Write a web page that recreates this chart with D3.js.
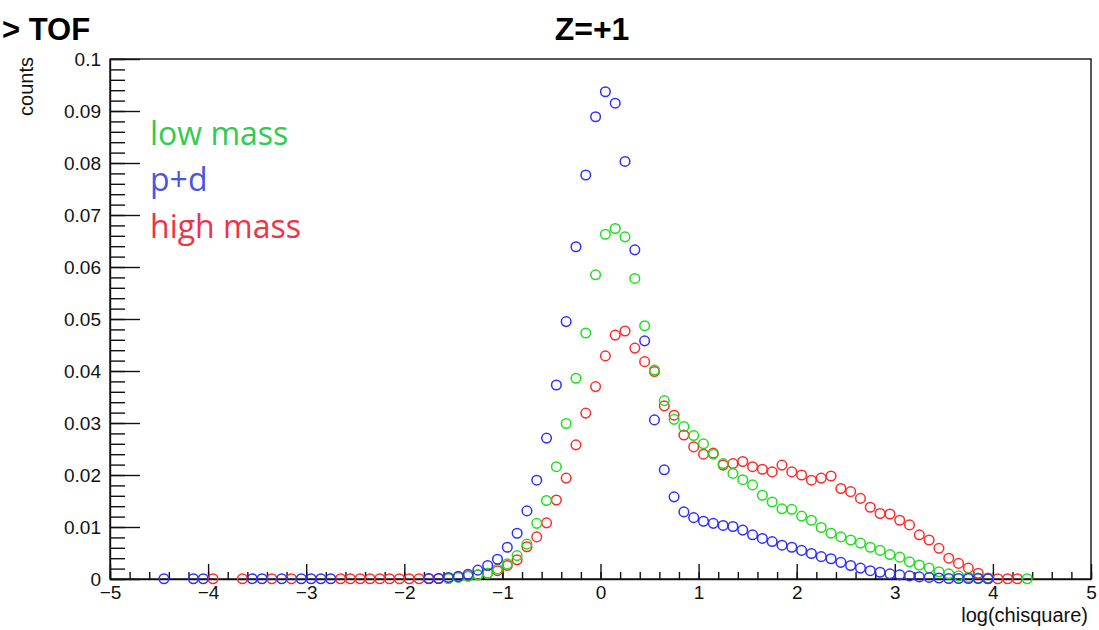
<!DOCTYPE html>
<html>
  <head>
    <meta charset="utf-8">
    <script type="text/javascript" src="https://cdn.jsdelivr.net/npm/d3@7/dist/d3.min.js"></script>
    <style>
      body { margin: 0; background: #fff; }
      svg { display: block; }
      .tick text { font-family: "Liberation Sans", Arial, sans-serif; font-size: 19px; fill: #111; }
      .axis path, .axis line { stroke: #111; stroke-width: 1.4; }
    </style>
  </head>
  <body>
    <script type="text/javascript">
      // tick labels
      var xTicks = [-5, -4, -3, -2, -1, 0, 1, 2, 3, 4, 5];
      var yTicks = [0, 0.01, 0.02, 0.03, 0.04, 0.05, 0.06, 0.07, 0.08, 0.09, 0.1];
      var yTickLabels = ["0", "0.01", "0.02", "0.03", "0.04", "0.05", "0.06", "0.07", "0.08", "0.09", "0.1"];

      // legend / series names
      var seriesNames = ["low mass", "p+d", "high mass"];

      // p+d (blue): bin centres and values
      var pdX = [-4.45, -4.15, -4.05, -3.55, -3.45, -3.25, -3.05, -2.95, -2.85, -2.75,
                 -1.75, -1.65, -1.55, -1.45, -1.35, -1.25, -1.15, -1.05, -0.95, -0.85,
                 -0.75, -0.65, -0.55, -0.45, -0.35, -0.25, -0.15, -0.05, 0.05, 0.15,
                 0.25, 0.35, 0.45, 0.55, 0.65, 0.75, 0.85, 0.95, 1.05, 1.15,
                 1.25, 1.35, 1.45, 1.55, 1.65, 1.75, 1.85, 1.95, 2.05, 2.15,
                 2.25, 2.35, 2.45, 2.55, 2.65, 2.75, 2.85, 2.95, 3.05, 3.15,
                 3.25, 3.35, 3.45, 3.55, 3.65, 3.75, 3.85, 3.95];
      var pdY = [0.00005, 0.00005, 0.00005, 0.00005, 0.00005, 0.00005, 0.00005, 0.00005, 0.00005, 0.00005,
                 0.0001, 0.0001, 0.0003, 0.0005, 0.0009, 0.0017, 0.0026, 0.0038, 0.0061, 0.0088,
                 0.0131, 0.019, 0.0271, 0.0373, 0.0495, 0.0639, 0.0777, 0.0889, 0.0937, 0.0915,
                 0.0803, 0.0633, 0.0458, 0.0306, 0.021, 0.0158, 0.0129, 0.0118, 0.0111, 0.0107,
                 0.0103, 0.0101, 0.0094, 0.0085, 0.0078, 0.0072, 0.0065, 0.0061, 0.0055, 0.0049,
                 0.0043, 0.0039, 0.0032, 0.0026, 0.0021, 0.0016, 0.0013, 0.001, 0.0008, 0.0006,
                 0.0004, 0.0003, 0.0002, 0.0001, 0.0001, 0.0001, 0.0001, 0.00005];

      // low mass (green)
      var lowX = [-1.55, -1.45, -1.35, -1.25, -1.15, -1.05, -0.95, -0.85, -0.75, -0.65,
                  -0.55, -0.45, -0.35, -0.25, -0.15, -0.05, 0.05, 0.15, 0.25, 0.35,
                  0.45, 0.55, 0.65, 0.75, 0.85, 0.95, 1.05, 1.15, 1.25, 1.35,
                  1.45, 1.55, 1.65, 1.75, 1.85, 1.95, 2.05, 2.15, 2.25, 2.35,
                  2.45, 2.55, 2.65, 2.75, 2.85, 2.95, 3.05, 3.15, 3.25, 3.35,
                  3.45, 3.55, 3.65, 3.75, 3.85, 3.95, 4.35];
      var lowY = [0.0001, 0.0003, 0.0005, 0.0008, 0.0011, 0.0019, 0.0029, 0.0045, 0.0067, 0.0107,
                  0.0151, 0.0216, 0.0299, 0.0386, 0.0473, 0.0585, 0.0663, 0.0674, 0.0658, 0.0578,
                  0.0487, 0.0402, 0.0343, 0.0307, 0.0293, 0.0276, 0.026, 0.024, 0.0222, 0.0203,
                  0.0191, 0.0181, 0.0161, 0.0148, 0.0135, 0.0134, 0.0121, 0.0113, 0.0099, 0.0088,
                  0.0081, 0.0075, 0.0069, 0.0061, 0.0055, 0.0047, 0.0042, 0.0033, 0.0027, 0.0021,
                  0.0014, 0.001, 0.0006, 0.0003, 0.0002, 0.0001, 0.00005];

      // high mass (red)
      var highX = [-3.95, -3.65, -3.35, -3.15, -2.65, -2.55, -2.45, -2.35, -2.25, -2.15,
                   -2.05, -1.95, -1.85, -1.75, -1.65, -1.55, -1.45, -1.35, -1.25, -1.15,
                   -1.05, -0.95, -0.85, -0.75, -0.65, -0.55, -0.45, -0.35, -0.25, -0.15,
                   -0.05, 0.05, 0.15, 0.25, 0.35, 0.45, 0.55, 0.65, 0.75, 0.85,
                   0.95, 1.05, 1.15, 1.25, 1.35, 1.45, 1.55, 1.65, 1.75, 1.85,
                   1.95, 2.05, 2.15, 2.25, 2.35, 2.45, 2.55, 2.65, 2.75, 2.85,
                   2.95, 3.05, 3.15, 3.25, 3.35, 3.45, 3.55, 3.65, 3.75, 3.85,
                   3.95, 4.05, 4.15, 4.25];
      var highY = [0.00005, 0.00005, 0.00005, 0.00005, 0.00005, 0.00005, 0.00005, 0.00005, 0.00005, 0.00005,
                   0.00005, 0.00005, 0.00005, 0.00005, 0.0001, 0.0002, 0.0004, 0.0006, 0.0008, 0.0011,
                   0.0016, 0.0026, 0.0037, 0.0062, 0.0081, 0.0108, 0.0152, 0.0194, 0.0258, 0.0319,
                   0.037, 0.0429, 0.0469, 0.0477, 0.0444, 0.0418, 0.0399, 0.0333, 0.0315, 0.0277,
                   0.0254, 0.024, 0.0242, 0.0219, 0.0222, 0.0226, 0.0216, 0.0211, 0.0206, 0.0219,
                   0.0206, 0.02, 0.019, 0.0194, 0.0198, 0.0174, 0.0168, 0.0155, 0.0138, 0.0126,
                   0.0125, 0.0113, 0.0104, 0.0085, 0.0075, 0.0059, 0.004, 0.003, 0.0021, 0.0011,
                   0.0002, 0.00005, 0.00005, 0.00005];

      var width = 1099;
      var height = 630;
      // plot frame edges (window.top is read-only, so no "top" here)
      var frameLeft = 110, frameRight = 1091, frameTop = 59, frameBottom = 579;

      var svg = d3.select("body")
                  .append("svg")
                  .attr("width", width)
                  .attr("height", height);

      var x = d3.scaleLinear().domain([-5, 5]).range([frameLeft, frameRight]);
      var y = d3.scaleLinear().domain([0, 0.1]).range([frameBottom, frameTop]);

      // frame
      svg.append("rect")
         .attr("x", frameLeft).attr("y", frameTop)
         .attr("width", frameRight - frameLeft).attr("height", frameBottom - frameTop)
         .attr("fill", "none")
         .attr("stroke", "#111")
         .attr("stroke-width", 1.4);

      // x axis: minor ticks every 0.2, major ticks with labels
      var xMinor = d3.range(-50, 51, 2).map(function(d) { return d / 10; });
      svg.append("g")
         .attr("class", "axis")
         .attr("transform", "translate(0," + frameBottom + ")")
         .call(d3.axisBottom(x).tickValues(xMinor).tickSize(-7).tickFormat(""))
         .select(".domain").remove();
      svg.append("g")
         .attr("class", "axis")
         .attr("transform", "translate(0," + frameBottom + ")")
         .call(d3.axisBottom(x).tickValues(xTicks).tickSizeInner(-15).tickSizeOuter(0)
                 .tickFormat(function(d) { return d < 0 ? "\u2212" + Math.abs(d) : "" + d; }))
         .call(function(g) { g.selectAll("text").attr("y", 5).attr("dy", "0.8em"); });

      // y axis: minor ticks every 0.002, major ticks with labels
      var yMinor = d3.range(0, 51).map(function(d) { return d * 0.002; });
      svg.append("g")
         .attr("class", "axis")
         .attr("transform", "translate(" + frameLeft + ",0)")
         .call(d3.axisLeft(y).tickValues(yMinor).tickSize(-15).tickFormat(""))
         .select(".domain").remove();
      svg.append("g")
         .attr("class", "axis")
         .attr("transform", "translate(" + frameLeft + ",0)")
         .call(d3.axisLeft(y).tickValues(yTicks).tickSizeInner(-30).tickSizeOuter(0)
                 .tickFormat(function(d, i) { return yTickLabels[i]; }))
         .call(function(g) { g.selectAll("text").attr("x", -9); });

      // markers: open circles
      var series = [
        { xs: highX, ys: highY, color: "#ff2a2a" },
        { xs: lowX, ys: lowY, color: "#1fe01f" },
        { xs: pdX, ys: pdY, color: "#2f2fff" }
      ];
      series.forEach(function(s) {
        svg.append("g")
           .selectAll("circle")
           .data(s.ys)
           .enter()
           .append("circle")
           .attr("cx", function(d, i) { return x(s.xs[i]); })
           .attr("cy", function(d) { return y(d); })
           .attr("r", 4.8)
           .attr("fill", "none")
           .attr("stroke", s.color)
           .attr("stroke-width", 1.5);
      });

      // titles
      svg.append("text")
         .attr("x", 592).attr("y", 40)
         .attr("text-anchor", "middle")
         .attr("font-family", "Liberation Sans, Arial, sans-serif")
         .attr("font-weight", "bold")
         .attr("font-size", 32)
         .text("Z=+1");
      svg.append("text")
         .attr("x", 2).attr("y", 40)
         .attr("font-family", "Liberation Sans, Arial, sans-serif")
         .attr("font-weight", "bold")
         .attr("font-size", 31)
         .text("> TOF");

      // axis titles
      svg.append("text")
         .attr("transform", "translate(33,57) rotate(-90)")
         .attr("text-anchor", "end")
         .attr("font-family", "Liberation Sans, Arial, sans-serif")
         .attr("font-size", 20)
         .attr("fill", "#111")
         .text("counts");
      svg.append("text")
         .attr("x", 1088).attr("y", 622)
         .attr("text-anchor", "end")
         .attr("font-family", "Liberation Sans, Arial, sans-serif")
         .attr("font-size", 20)
         .attr("fill", "#111")
         .text("log(chisquare)");

      // legend text
      var legendColors = ["#2ecc4f", "#4a55dd", "#ee3344"];
      var legendY = [145, 191, 238];
      svg.append("g")
         .selectAll("text")
         .data(seriesNames)
         .enter()
         .append("text")
         .attr("x", 150)
         .attr("y", function(d, i) { return legendY[i]; })
         .attr("font-family", "Open Sans, Noto Sans, sans-serif")
         .attr("font-size", 32)
         .attr("fill", function(d, i) { return legendColors[i]; })
         .text(function(d) { return d; });
    </script>
  </body>
</html>
